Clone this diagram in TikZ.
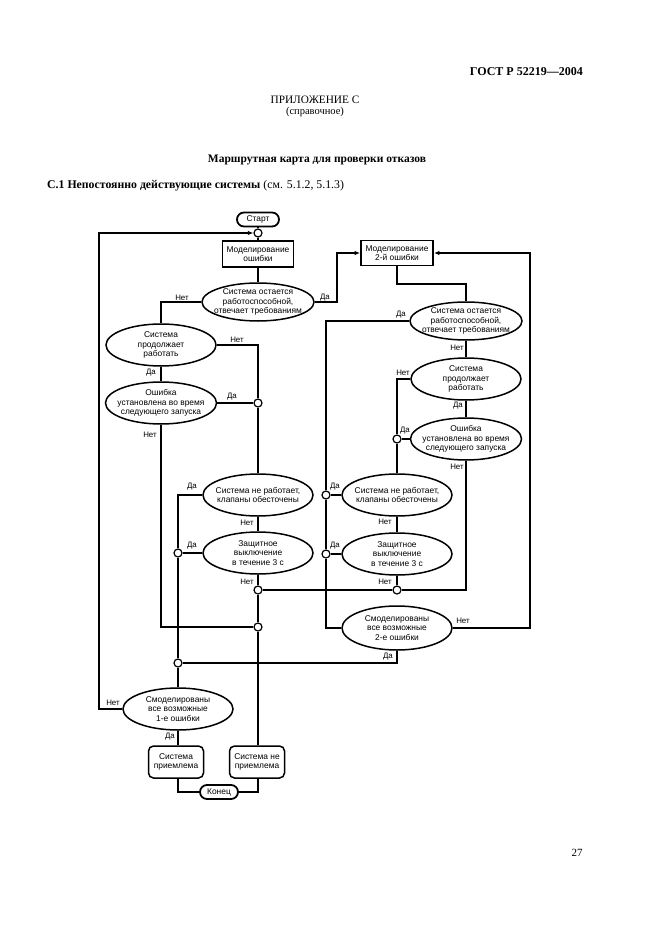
\documentclass[tikz,border=0pt]{standalone}
\usepackage{fontspec}
\setmainfont{Liberation Serif}
\newfontfamily\dsans{Liberation Sans}
\usetikzlibrary{shapes.geometric,arrows.meta,backgrounds}
\begin{document}
\begin{tikzpicture}[x=1pt,y=-1pt,
  txt/.style={font=\dsans\fontsize{8.4}{9.6}\selectfont,align=center,inner sep=0pt},
  ell/.style={ellipse,draw,line width=1.5pt,fill=white,inner sep=0pt,minimum width=110pt,minimum height=42pt},
  bx/.style={rectangle,draw,line width=1.9pt,fill=white,txt,minimum width=71pt,minimum height=26pt},
  rbx/.style={rectangle,rounded corners=5pt,draw,line width=1.5pt,fill=white,txt,minimum width=55pt,minimum height=32pt},
  term/.style={rectangle,rounded corners=7pt,draw,line width=1.8pt,fill=white,txt,minimum width=42pt,minimum height=14pt},
  jn/.style={circle,draw,fill=white,line width=1.2pt,minimum size=8pt,inner sep=0pt},
  lab/.style={font=\dsans\fontsize{7.9}{8}\selectfont,inner sep=0pt},
  conn/.style={line width=1.6pt},
  arr/.style={conn,-{Latex[length=5.5pt,width=4.5pt]}},
  hdr/.style={inner sep=0pt}
]
\begin{pgfonlayer}{background}
\path[use as bounding box,fill=white] (0,0) rectangle (661,936);
\end{pgfonlayer}

% header texts
\node[hdr,anchor=east,font=\fontsize{12}{14}\selectfont\bfseries] (gost) at (583,72) {ГОСТ Р 52219---2004};
\node[hdr,font=\fontsize{11.3}{13}\selectfont] (app) at (315,100) {ПРИЛОЖЕНИЕ С};
\node[hdr,font=\fontsize{10.5}{12}\selectfont] (ref) at (315,112) {(справочное)};
\node[hdr,font=\fontsize{11.5}{13}\selectfont\bfseries] (title) at (317,160) {Маршрутная карта для проверки отказов};
\node[hdr,anchor=west,font=\fontsize{11.8}{13}\selectfont] (sec) at (47,186) {\textbf{С.1 Непостоянно действующие системы} (см. 5.1.2, 5.1.3)};
\node[hdr,font=\fontsize{11}{13}\selectfont] (pg) at (577,853) {27};

% left part
\node[term] (start) at (258,219.5) {Старт};
\node[jn] (c0) at (258,233) {};
\node[bx] (box1) at (258,254) {Моделирование\\ошибки};
\node[ell,minimum width=112pt,minimum height=38pt,label={[txt]center:{Система остается\\работоспособной,\\отвечает требованиям}}] (e1) at (258,302) {};
\node[ell,label={[txt]center:{Система\\продолжает\\работать}}] (e2) at (161,345) {};
\node[ell,minimum width=111pt,label={[txt]center:{Ошибка\\установлена во время\\следующего запуска}}] (e3) at (161,403) {};
\node[ell,label={[txt]center:{Система не работает,\\клапаны обесточены}}] (e4) at (258,495) {};
\node[ell,label={[txt]center:{Защитное\\выключение\\в течение 3 с}}] (e5) at (258,553) {};
\node[ell,label={[txt]center:{Смоделированы\\все возможные\\1-е ошибки}}] (e6) at (178,709) {};
\node[rbx] (sp) at (176,762) {Система\\приемлема};
\node[rbx] (snp) at (257,762) {Система не\\приемлема};
\node[term,minimum width=38pt] (end) at (219,792) {Конец};

% right part
\node[bx,minimum width=72pt,minimum height=25pt] (box2) at (397,253) {Моделирование\\2-й ошибки};
\node[ell,minimum width=112pt,minimum height=38pt,label={[txt]center:{Система остается\\работоспособной,\\отвечает требованиям}}] (f1) at (466,321) {};
\node[ell,label={[txt]center:{Система\\продолжает\\работать}}] (f2) at (466,379) {};
\node[ell,minimum width=111pt,label={[txt]center:{Ошибка\\установлена во время\\следующего запуска}}] (f3) at (466,439) {};
\node[ell,label={[txt]center:{Система не работает,\\клапаны обесточены}}] (f4) at (397,495) {};
\node[ell,label={[txt]center:{Защитное\\выключение\\в течение 3 с}}] (f5) at (397,554) {};
\node[ell,minimum height=44pt,label={[txt]center:{Смоделированы\\все возможные\\2-е ошибки}}] (f6) at (397,628) {};

% junctions
\node[jn] (c1) at (258,403) {};
\node[jn] (c2) at (178,553) {};
\node[jn] (c3) at (258,590) {};
\node[jn] (c4) at (258,627) {};
\node[jn] (c5) at (178,663) {};
\node[jn] (c6) at (397,439) {};
\node[jn] (c7) at (326,495) {};
\node[jn] (c8) at (326,554) {};
\node[jn] (c9) at (397,590) {};

\coordinate (ll) at (99,709);
\coordinate (rl) at (530,628);
\coordinate (da1) at (337,302);
\coordinate (b2b) at (397,284);
\coordinate (f1x) at (326,321);
\coordinate (e3b) at (161,627);
\coordinate (f3b) at (466,590);
\coordinate (f6b) at (397,663);

\begin{pgfonlayer}{background}
\draw[conn] (start) -- (c0) -- (box1) -- (e1);
\draw[conn] (e1.west) -| (e2.north);
\draw[arr] (e1.east) -- (da1) |- (box2.west);
\draw[conn] (e2.east) -| (c1);
\draw[conn] (e2) -- (e3);
\draw[conn] (e3.east) -- (c1);
\draw[conn] (c1) -- (e4);
\draw[conn] (e3.south) -- (e3b) -- (c4);
\draw[conn] (e4.west) -| (c2);
\draw[conn] (e5.west) -- (c2);
\draw[conn] (c2) -- (c5) -- (e6);
\draw[conn] (e4) -- (e5) -- (c3) -- (c4) -- (c4 |- snp.north);
\draw[arr] (e6.west) -- (ll) |- (c0.west);
\draw[conn] (e6.south) -- (e6.south |- sp.north);
\draw[conn] (e6.south |- sp.south) |- (end.west);
\draw[conn] (c4 |- snp.south) |- (end.east);
\draw[conn] (box2.south) -- (b2b) -| (f1.north);
\draw[conn] (f1.west) -- (f1x) -- (c7) -- (c8) |- (f6.west);
\draw[conn] (f1) -- (f2) -- (f3);
\draw[conn] (f2.west) -| (c6);
\draw[conn] (f3.west) -- (c6);
\draw[conn] (c6) -- (f4) -- (f5) -- (c9);
\draw[conn] (f4.west) -- (c7);
\draw[conn] (f5.west) -- (c8);
\draw[conn] (f3.south) -- (f3b) -- (c9) -- (c3);
\draw[arr] (f6.east) -- (rl) |- (box2.east);
\draw[conn] (f6.south) -- (f6b) -- (c5);
\end{pgfonlayer}

% labels
\node[lab] (l1) at (182,298) {Нет};
\node[lab] (l2) at (325,298) {Да};
\node[lab] (l3) at (237,340) {Нет};
\node[lab] (l4) at (151,373) {Да};
\node[lab] (l5) at (232,397) {Да};
\node[lab] (l6) at (150,435) {Нет};
\node[lab] (l7) at (192,487) {Да};
\node[lab] (l8) at (247,523) {Нет};
\node[lab] (l9) at (192,546) {Да};
\node[lab] (l10) at (247,582) {Нет};
\node[lab] (l11) at (113,703) {Нет};
\node[lab] (l12) at (170,737) {Да};
\node[lab] (r1) at (401,315) {Да};
\node[lab] (r2) at (457,348) {Нет};
\node[lab] (r3) at (403,373) {Нет};
\node[lab] (r4) at (458,406) {Да};
\node[lab] (r5) at (405,431) {Да};
\node[lab] (r6) at (457,467) {Нет};
\node[lab] (r7) at (335,487) {Да};
\node[lab] (r8) at (385,522) {Нет};
\node[lab] (r9) at (335,546) {Да};
\node[lab] (r10) at (385,582) {Нет};
\node[lab] (r11) at (463,621) {Нет};
\node[lab] (r12) at (388,657) {Да};
\end{tikzpicture}
\end{document}
